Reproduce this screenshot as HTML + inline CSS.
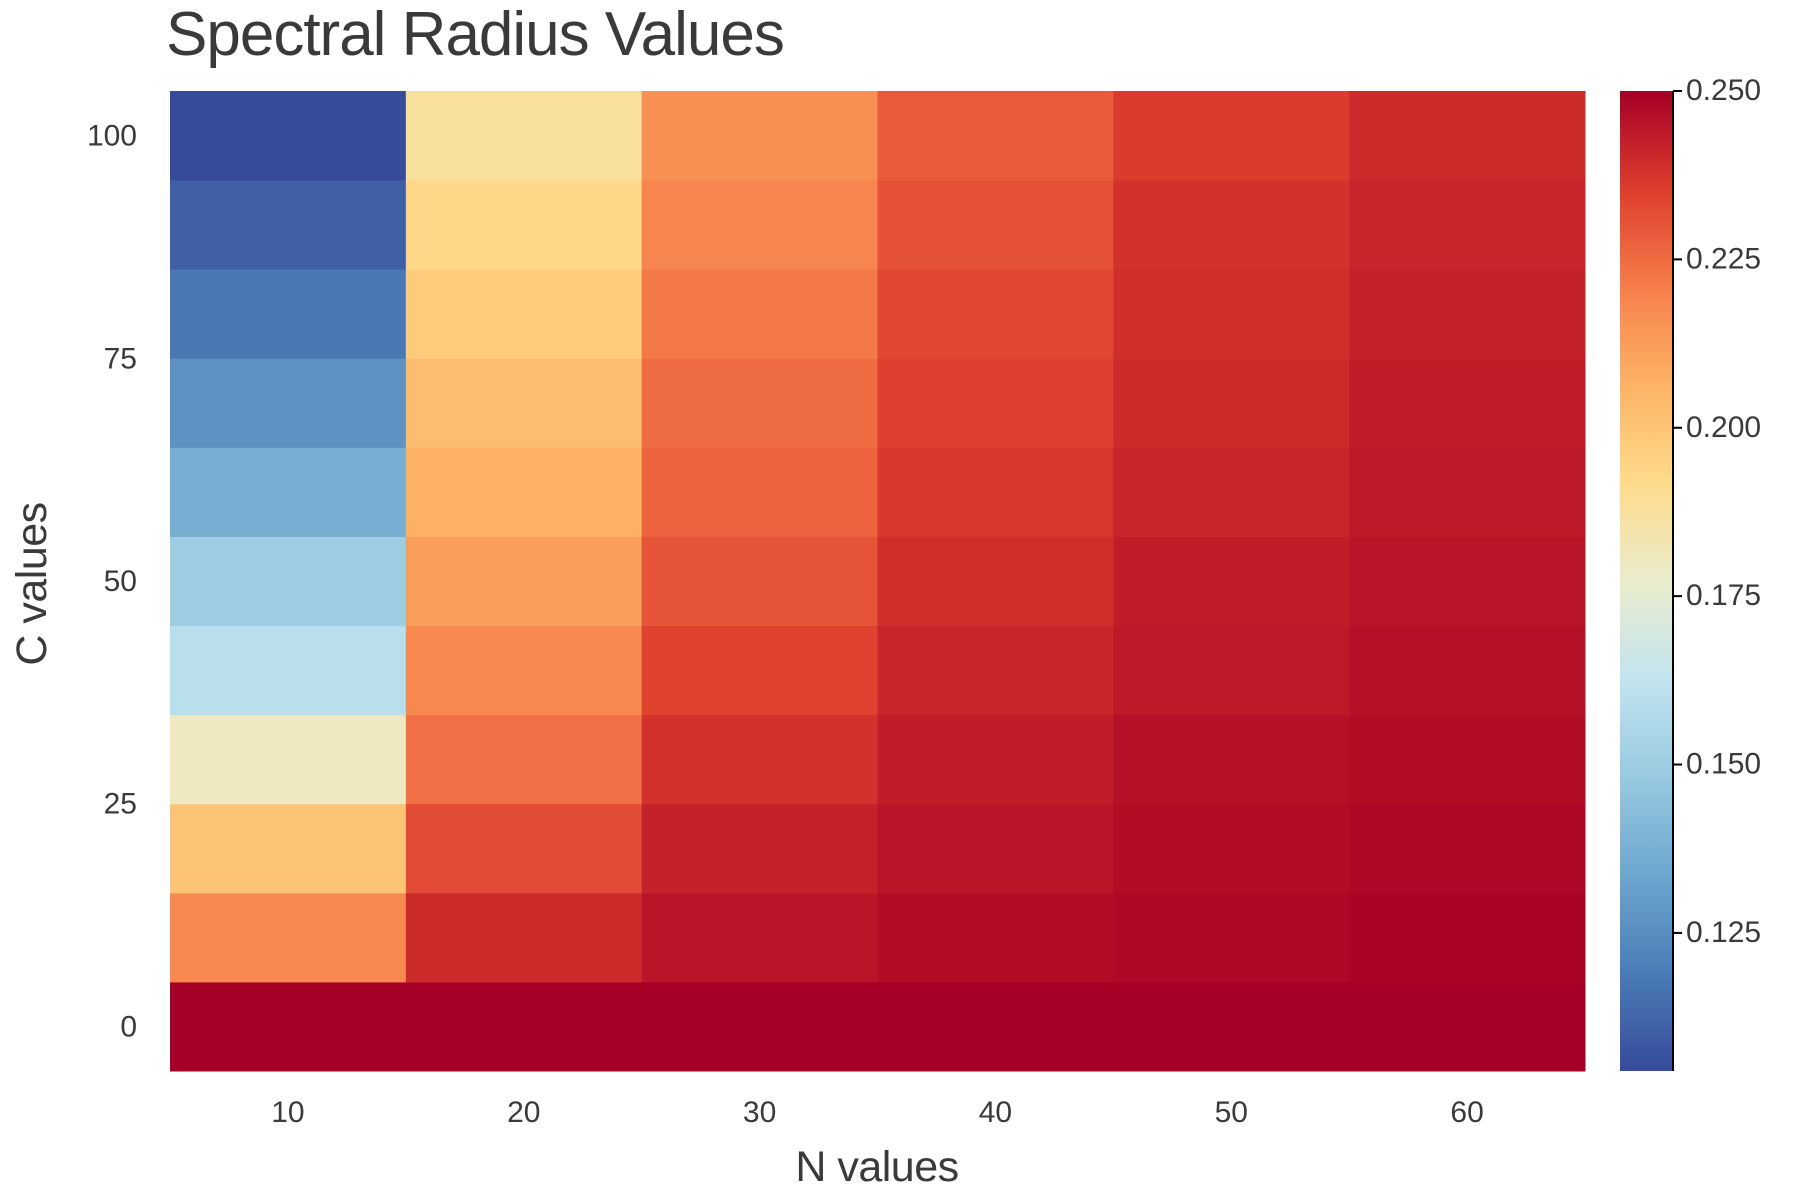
<!DOCTYPE html>
<html><head><meta charset="utf-8"><style>
html,body{margin:0;padding:0;background:#fff;}
svg{display:block;font-family:"Liberation Sans",Arial,sans-serif;}
</style></head><body>
<svg id="chart" width="1800" height="1200" viewBox="0 0 1800 1200">
<text x="166" y="55" font-size="62" fill="#3a3a3a" letter-spacing="-1">Spectral Radius Values</text>
<g id="cells"></g>
<g id="xticks"></g>
<g id="yticks"></g>
<text x="877" y="1181" font-size="43" fill="#3a3a3a" text-anchor="middle" letter-spacing="-0.5">N values</text>
<text transform="translate(46,584) rotate(-90)" font-size="43" fill="#3a3a3a" text-anchor="middle" letter-spacing="-0.5">C values</text>
<defs><linearGradient id="cbg" x1="0" y1="1" x2="0" y2="0"></linearGradient></defs>
<g id="colorbar"></g>
</svg>
<script>
const nValues=[10,20,30,40,50,60];
const cValues=[0,10,20,30,40,50,60,70,80,90,100];
const col10=[0.250,0.218,0.200,0.180,0.160,0.150,0.137,0.127,0.118,0.111,0.1046];
const col20=[0.250,0.240,0.232,0.224,0.218,0.212,0.207,0.203,0.198,0.193,0.188];
const col30=[0.250,0.245,0.242,0.238,0.234,0.230,0.227,0.225,0.222,0.219,0.216];
const col40=[0.250,0.247,0.245,0.243,0.241,0.239,0.237,0.235,0.233,0.231,0.229];
const col50=[0.250,0.248,0.247,0.246,0.244,0.243,0.241,0.240,0.239,0.238,0.236];
const col60=[0.250,0.249,0.248,0.247,0.246,0.245,0.244,0.243,0.242,0.241,0.240];
const xTickLabels=["10","20","30","40","50","60"];
const yTickValues=[0,25,50,75,100];
const cbTicks=[0.125,0.150,0.175,0.200,0.225,0.250];
const NS="http://www.w3.org/2000/svg";
const cols=[col10,col20,col30,col40,col50,col60];
const PL=170,PR=1585,PT=91,PB=1071;
const vmin=0.1045,vmax=0.250;
const cw=(PR-PL)/nValues.length, ch=(PB-PT)/cValues.length;
const xC=i=>PL+cw*(i+0.5);
const yC=c=>PB-(c-cValues[0]+5)/10*ch;
const stops=["#364b9a","#4a7bb7","#6ea6cd","#98cae1","#c2e4ef","#eaeccc","#fedb8b","#fdb366","#f67e4b","#dd3d2d","#a50026"];
function hex(h){return [1,3,5].map(k=>parseInt(h.substr(k,2),16));}
function color(v){let t=Math.max(0,Math.min(1,(v-vmin)/(vmax-vmin)))*(stops.length-1);
 let i=Math.min(Math.floor(t),stops.length-2),f=t-i,a=hex(stops[i]),b=hex(stops[i+1]);
 return "rgb("+a.map((x,k)=>Math.round(x+(b[k]-x)*f)).join(",")+")";}
const cells=document.getElementById('cells');
cols.forEach((arr,i)=>arr.forEach((v,j)=>{
 const r=document.createElementNS(NS,'rect');
 r.setAttribute('x',PL+cw*i);r.setAttribute('y',PB-ch*(j+1));
 r.setAttribute('width',cw+0.5);r.setAttribute('height',ch+0.5);
 r.setAttribute('fill',color(v));
 
 
 cells.appendChild(r);}));
const xt=document.getElementById('xticks');
xTickLabels.forEach((l,i)=>{const t=document.createElementNS(NS,'text');
 t.setAttribute('x',xC(i));t.setAttribute('y',1122);t.setAttribute('font-size','30');
 t.setAttribute('text-anchor','middle');t.setAttribute('fill','#3a3a3a');t.textContent=l;
 
 
 xt.appendChild(t);});
const yt=document.getElementById('yticks');
yTickValues.forEach(v=>{const t=document.createElementNS(NS,'text');
 t.setAttribute('x',137);t.setAttribute('y',yC(v)+10);t.setAttribute('font-size','30');
 t.setAttribute('text-anchor','end');t.setAttribute('fill','#3a3a3a');t.textContent=v;
 
 
 yt.appendChild(t);});
const g=document.getElementById('cbg');
stops.forEach((s,i)=>{const st=document.createElementNS(NS,'stop');st.setAttribute('offset',i/(stops.length-1));st.setAttribute('stop-color',s);g.appendChild(st);});
const cb=document.getElementById('colorbar');
const CBL=1620,CBR=1673;
const cbY=v=>PB-(v-vmin)/(vmax-vmin)*(PB-PT);
const cr=document.createElementNS(NS,'rect');
cr.setAttribute('x',CBL);cr.setAttribute('y',PT);cr.setAttribute('width',CBR-CBL);cr.setAttribute('height',PB-PT);cr.setAttribute('fill','url(#cbg)');


cb.appendChild(cr);
const ax=document.createElementNS(NS,'line');
ax.setAttribute('x1',CBR);ax.setAttribute('x2',CBR);ax.setAttribute('y1',PT);ax.setAttribute('y2',PB);ax.setAttribute('stroke','#000');ax.setAttribute('stroke-width','2');


cb.appendChild(ax);
cbTicks.forEach(v=>{const y=cbY(v);
 const l=document.createElementNS(NS,'line');
 l.setAttribute('x1',CBR);l.setAttribute('x2',CBR+9);l.setAttribute('y1',y);l.setAttribute('y2',y);l.setAttribute('stroke','#000');l.setAttribute('stroke-width','2');
 
 
 cb.appendChild(l);
 const t=document.createElementNS(NS,'text');
 t.setAttribute('x',CBR+13);t.setAttribute('y',y+9);t.setAttribute('font-size','30');t.setAttribute('fill','#3a3a3a');t.textContent=v.toFixed(3);
 
 
 cb.appendChild(t);});
</script>
</body></html>
